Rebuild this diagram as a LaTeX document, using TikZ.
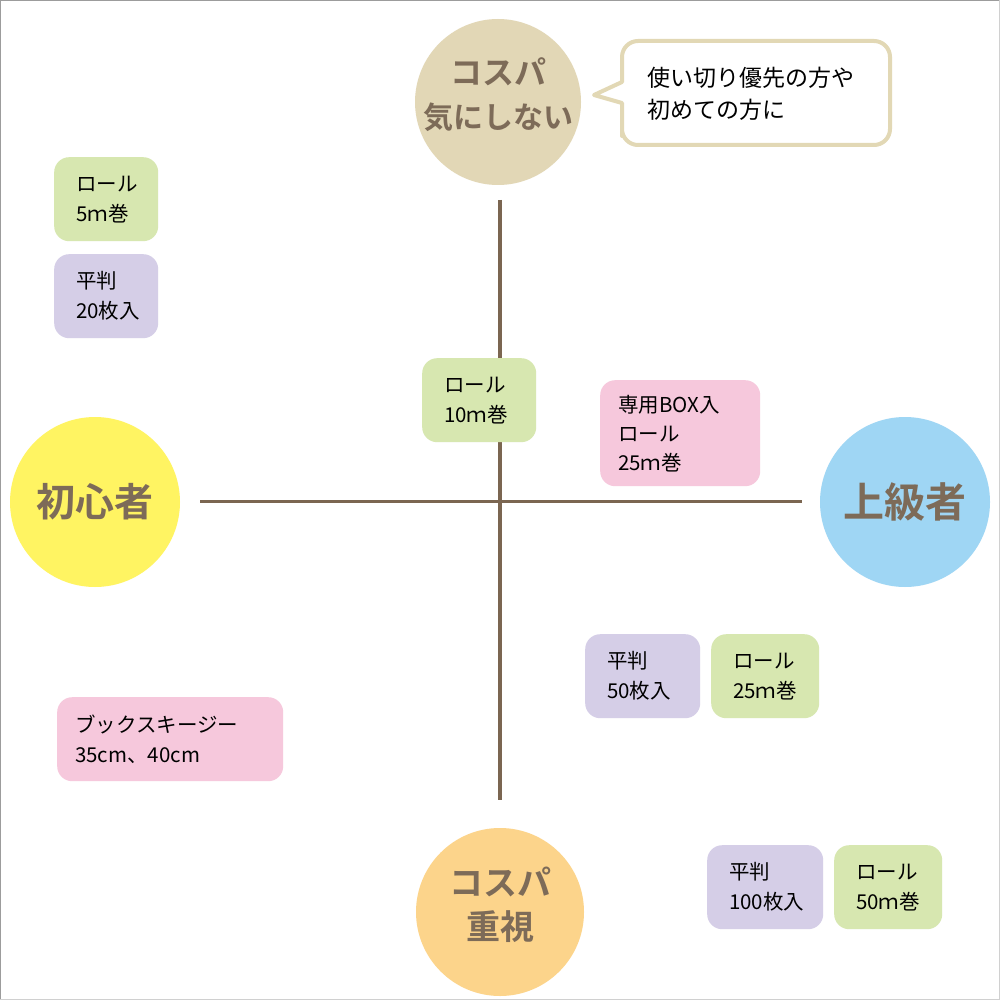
\documentclass[tikz,border=0pt]{standalone}
\usepackage{fontspec}
\newfontfamily\jp{Noto Sans CJK JP}
\newfontfamily\jpb{Noto Sans CJK JP Bold}
\definecolor{axisbrown}{HTML}{7B6651}
\definecolor{labelbrown}{HTML}{7D6B58}
\definecolor{cTop}{HTML}{E2D7B6}
\definecolor{cBottom}{HTML}{FCD48B}
\definecolor{cLeft}{HTML}{FFF462}
\definecolor{cRight}{HTML}{9FD6F4}
\definecolor{bGreen}{HTML}{D7E7B0}
\definecolor{bLav}{HTML}{D5CEE7}
\definecolor{bPink}{HTML}{F6C8DC}
\definecolor{bubbleline}{HTML}{E2D8B5}
\definecolor{frameA}{HTML}{9C9C9C}
\definecolor{frameB}{HTML}{D0D0D0}
\begin{document}
\begin{tikzpicture}[x=1pt,y=-1pt,
  circ/.style={circle,minimum size=#1,inner sep=0pt,align=center,text=labelbrown,font=\jpb\fontsize{38}{46}\selectfont},
  circtext/.style={inner sep=0pt,align=center,text=labelbrown},
  item/.style={rounded corners=15pt,inner xsep=22pt,inner ysep=0pt,align=left,anchor=north west,font=\jp\fontsize{20.5}{30}\selectfont,text=black},
  axisline/.style={draw=axisbrown,line width=3.2pt}]
\useasboundingbox (0,0) rectangle (1000,1000);
\fill[white] (0,0) rectangle (1000,1000);
\draw[frameB,line width=1.2pt] (999.4,0) -- (999.4,999.4) -- (0,999.4);
\draw[frameA,line width=1.4pt] (0.7,999) -- (0.7,0.7) -- (999,0.7);
% axes
\coordinate (vtop) at (500,200);
\coordinate (vbot) at (500,800);
\coordinate (hleft) at (200,501.5);
\coordinate (hright) at (802,501.5);
\draw[axisline] (vtop) -- (vbot);
\draw[axisline] (hleft) -- (hright);
% circles
\node[circ=166pt,fill=cTop] (top) at (498,102) {};
\node[circtext,font=\jpb\fontsize{32}{46}\selectfont] (toptext) at (498,95) {コスパ\\[-2pt]{\fontsize{30}{40}\selectfont 気にしない}};
\node[circ=168pt,fill=cBottom] (bottom) at (500,912) {};
\node[circtext,font=\jpb\fontsize{34}{44}\selectfont] (bottomtext) at (500,905) {コスパ\\重視};
\node[circ=170pt,fill=cLeft,font=\jpb\fontsize{39}{46}\selectfont] (left) at (95,502) {初心者};
\node[circ=170pt,fill=cRight,font=\jpb\fontsize{41}{46}\selectfont] (right) at (905,502) {上級者};
% speech bubble
\draw[bubbleline,fill=white,line width=4pt,line join=round]
  (622,60) [rounded corners=16pt] -- (622,41) -- (890,41) -- (890,145) -- (622,145) -- (622,120)
  [sharp corners] -- (622,103) -- (594,95) -- (622,82) -- cycle;
\node[anchor=west,inner sep=0pt,align=left,font=\jp\fontsize{23}{32}\selectfont] (bubbletext) at (647,94) {使い切り優先の方や\\初めての方に};
% items
\node[item,fill=bGreen,minimum width=104pt,minimum height=84pt,text width=60pt] (r5) at (54,157) {ロール\\5ｍ巻};
\node[item,fill=bLav,minimum width=104pt,minimum height=84pt,text width=60pt] (h20) at (54,254) {平判\\20枚入};
\node[item,fill=bGreen,minimum width=114pt,minimum height=84pt,text width=70pt] (r10) at (422,358) {ロール\\10ｍ巻};
\node[item,fill=bPink,minimum width=160pt,minimum height=106pt,text width=124pt,inner xsep=18pt,font=\jp\fontsize{20.5}{29}\selectfont] (box25) at (600,380) {専用BOX入\\ロール\\25ｍ巻};
\node[item,fill=bLav,minimum width=115pt,minimum height=84pt,text width=71pt] (h50) at (585,634) {平判\\50枚入};
\node[item,fill=bGreen,minimum width=108pt,minimum height=84pt,text width=64pt] (r25) at (711,634) {ロール\\25ｍ巻};
\node[item,fill=bPink,minimum width=226pt,minimum height=84pt,text width=190pt,inner xsep=18pt] (squeegee) at (57,697) {ブックスキージー\\35cm、40cm};
\node[item,fill=bLav,minimum width=116pt,minimum height=84pt,text width=72pt] (h100) at (707,845) {平判\\100枚入};
\node[item,fill=bGreen,minimum width=108pt,minimum height=84pt,text width=64pt] (r50) at (834,845) {ロール\\50ｍ巻};
\end{tikzpicture}
\end{document}
